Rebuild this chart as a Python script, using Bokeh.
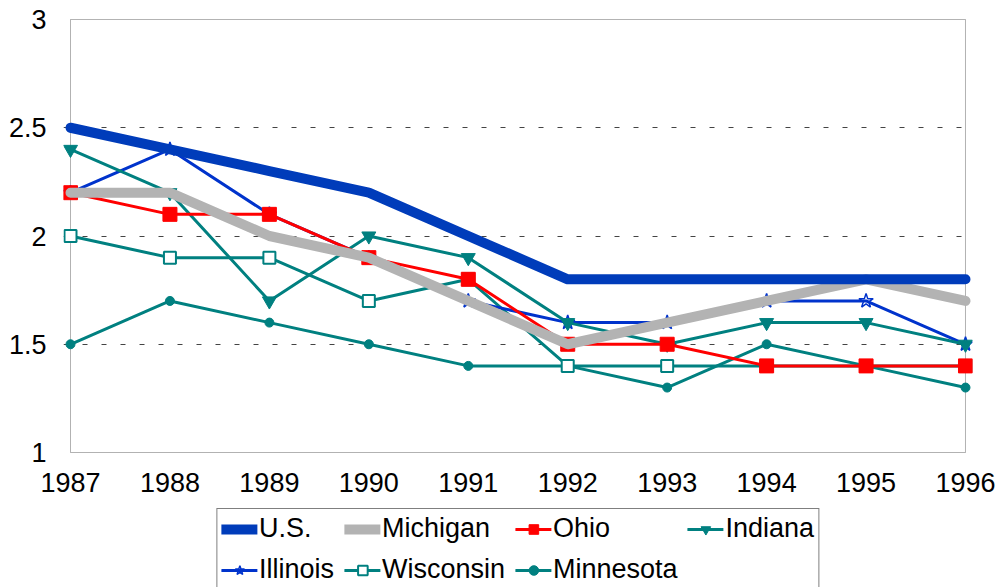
from bokeh.plotting import figure
from bokeh.layouts import column
from bokeh.models import Range1d, FixedTicker, Legend, LegendItem, BoxAnnotation
from bokeh.embed import file_html
from bokeh.resources import INLINE

years = [1987, 1988, 1989, 1990, 1991, 1992, 1993, 1994, 1995, 1996]
us = [2.5, 2.4, 2.3, 2.2, 2.0, 1.8, 1.8, 1.8, 1.8, 1.8]
michigan = [2.2, 2.2, 2.0, 1.9, 1.7, 1.5, 1.6, 1.7, 1.8, 1.7]
ohio = [2.2, 2.1, 2.1, 1.9, 1.8, 1.5, 1.5, 1.4, 1.4, 1.4]
indiana = [2.4, 2.2, 1.7, 2.0, 1.9, 1.6, 1.5, 1.6, 1.6, 1.5]
illinois = [2.2, 2.4, 2.1, 1.9, 1.7, 1.6, 1.6, 1.7, 1.7, 1.5]
wisconsin = [2.0, 1.9, 1.9, 1.7, 1.8, 1.4, 1.4, 1.4, 1.4, 1.4]
minnesota = [1.5, 1.7, 1.6, 1.5, 1.4, 1.4, 1.3, 1.5, 1.4, 1.3]

y_ticks = [1, 1.5, 2, 2.5, 3]
y_tick_labels = ["1", "1.5", "2", "2.5", "3"]
x_tick_labels = [str(y) for y in years]

FONT = "Liberation Sans"
TEAL = "#008080"

# name -> (values, color, line width, marker, marker size, marker fill, marker line width)
styles = {
    "U.S.": (us, "#003cba", 10, None, 0, None, 1),
    "Michigan": (michigan, "#b3b3b3", 10, None, 0, None, 1),
    "Ohio": (ohio, "#ff0000", 3, "square", 14, None, 1),
    "Indiana": (indiana, TEAL, 3, "inverted_triangle", 14, None, 1),
    "Illinois": (illinois, "#0033cc", 3, "star", 15, "none", 1.5),
    "Wisconsin": (wisconsin, TEAL, 3, "square", 12, "white", 2),
    "Minnesota": (minnesota, TEAL, 3, "circle", 9, None, 1),
}
legend_order = ["U.S.", "Michigan", "Ohio", "Indiana", "Illinois", "Wisconsin", "Minnesota"]
draw_order = ["Minnesota", "Wisconsin", "Illinois", "Indiana", "Ohio", "Michigan", "U.S."]

# small padding (in data units ~ 7px / 1px) so edge markers are not clipped
XPAD = 0.0704
YPAD = 0.0046

p = figure(width=1000, height=508, output_backend="svg", toolbar_location=None,
           x_range=Range1d(years[0] - XPAD, years[-1] + XPAD),
           y_range=Range1d(y_ticks[0] - YPAD, y_ticks[-1] + YPAD),
           min_border_left=63, min_border_top=18, min_border_right=28,
           min_border_bottom=55)

p.outline_line_color = None
p.xgrid.visible = False
p.ygrid.ticker = FixedTicker(ticks=[1.5, 2, 2.5])
p.ygrid.grid_line_color = "#444444"
p.ygrid.grid_line_dash = "5 14"
p.ygrid.grid_line_width = 1

for ax in (p.xaxis[0], p.yaxis[0]):
    ax.axis_line_color = None
    ax.major_tick_line_color = None
    ax.minor_tick_line_color = None
    ax.major_label_text_font = FONT
    ax.major_label_text_font_size = "27px"
    ax.major_label_text_color = "black"

p.xaxis.ticker = FixedTicker(ticks=years)
p.xaxis.major_label_overrides = {y: l for y, l in zip(years, x_tick_labels)}
p.xaxis.major_label_standoff = 13
p.yaxis.ticker = FixedTicker(ticks=y_ticks)
p.yaxis.major_label_overrides = {t: l for t, l in zip(y_ticks, y_tick_labels)}
p.yaxis.major_label_standoff = 11

# plot-area border exactly on the data limits
p.add_layout(BoxAnnotation(left=years[0], right=years[-1], bottom=y_ticks[0], top=y_ticks[-1],
                           fill_alpha=0, line_color="black", line_width=1, level="underlay"))


def add_series(fig, xs, vals, color, lw, marker, size, fill, mlw):
    line = fig.line(xs, vals, line_color=color, line_width=lw,
                    line_cap="round", line_join="round")
    rs = [line]
    if marker:
        sc = fig.scatter(xs, vals, marker=marker, size=size,
                         line_color=color, line_width=mlw,
                         fill_color=fill if fill and fill != "none" else color,
                         fill_alpha=0 if fill == "none" else 1)
        rs.append(sc)
    return rs


for name in draw_order:
    vals, color, lw, marker, size, fill, mlw = styles[name]
    add_series(p, years, vals, color, lw, marker, size, fill, mlw)

# legend strip below the chart; its keys reuse the same series (drawn outside its view)
p2 = figure(width=1000, height=79, output_backend="svg", toolbar_location=None,
            x_axis_type=None, y_axis_type=None,
            x_range=Range1d(0, 1), y_range=Range1d(0, 1),
            min_border_left=35, min_border_right=0, min_border_top=0,
            min_border_bottom=0)
p2.outline_line_color = None
p2.grid.visible = False

items = []
for name in legend_order:
    vals, color, lw, marker, size, fill, mlw = styles[name]
    rs = add_series(p2, years, vals, color, lw, marker, size, fill, mlw)
    items.append(LegendItem(label=name, renderers=rs))

legend = Legend(items=items, location="top_center", orientation="horizontal",
                ncols=4, border_line_color="black", border_line_width=1,
                background_fill_color="white", background_fill_alpha=1,
                label_text_font=FONT, label_text_font_size="27px",
                label_text_color="black",
                glyph_width=36, glyph_height=24, label_standoff=2,
                padding=4, spacing=10, margin=0)
p2.add_layout(legend, "center")

layout = column(p, p2, spacing=0)
open("out.html", "w").write(file_html(layout, INLINE))
